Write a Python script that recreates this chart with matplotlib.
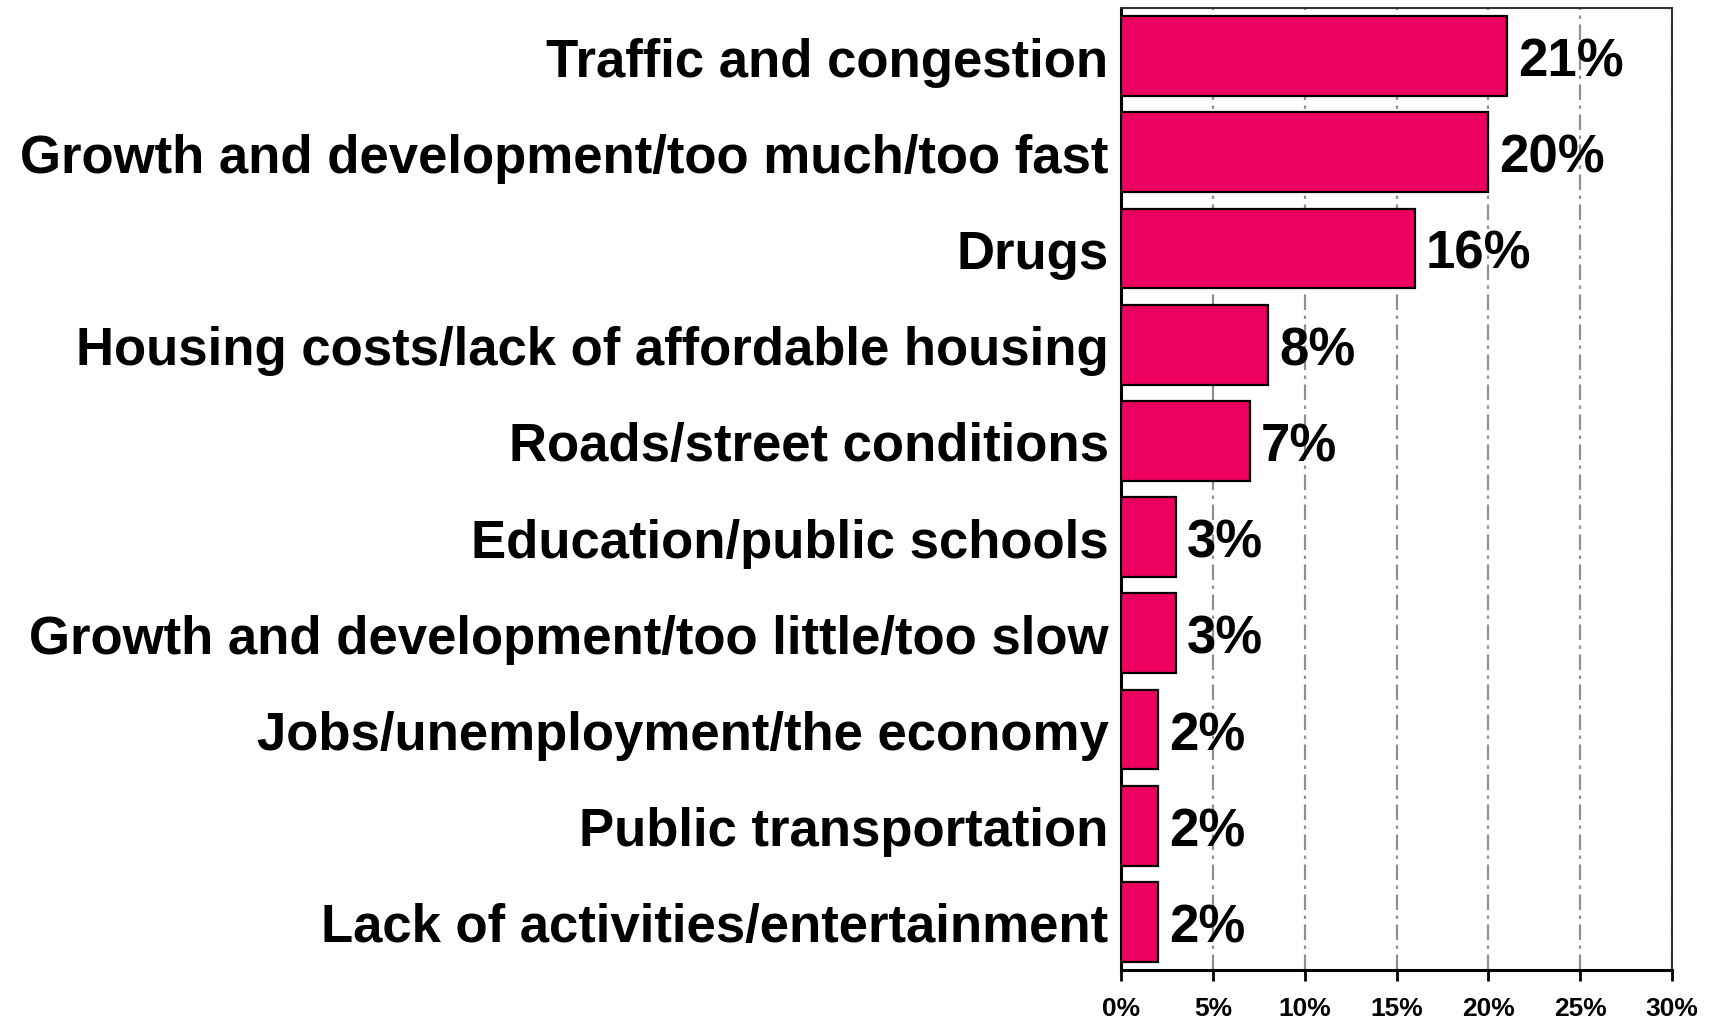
import matplotlib
matplotlib.use("Agg")
import matplotlib.pyplot as plt
from matplotlib.ticker import FuncFormatter

categories = [
    "Traffic and congestion",
    "Growth and development/too much/too fast",
    "Drugs",
    "Housing costs/lack of affordable housing",
    "Roads/street conditions",
    "Education/public schools",
    "Growth and development/too little/too slow",
    "Jobs/unemployment/the economy",
    "Public transportation",
    "Lack of activities/entertainment",
]
values = [21, 20, 16, 8, 7, 3, 3, 2, 2, 2]
x_ticks = [0, 5, 10, 15, 20, 25, 30]

plt.rcParams["font.family"] = ["Liberation Sans", "DejaVu Sans"]
plt.rcParams["font.weight"] = "bold"

fig = plt.figure(figsize=(17.11, 10.20), dpi=100)
ax = fig.add_axes([0.6552, 0.0480, 0.9772 - 0.6552, 0.9912 - 0.0480])

bar_color = "#EE0060"
ypos = list(range(len(categories)))
ax.barh(ypos, values, height=0.83, color=bar_color,
        edgecolor="black", linewidth=1.6, zorder=3)

for y, v in zip(ypos, values):
    ax.text(v + 0.6, y, f"{v}%", va="center_baseline", ha="left",
            fontsize=38, fontweight="bold", color="black", zorder=4)

ax.set_xlim(0, 30)
ax.set_ylim(len(categories) - 0.5, -0.5)
ax.set_xticks(x_ticks)
ax.xaxis.set_major_formatter(FuncFormatter(lambda v, p: f"{int(v)}%"))
ax.set_yticks(ypos)
ax.set_yticklabels(categories, fontsize=38, fontweight="bold")
ax.tick_params(axis="y", length=0, pad=9)
ax.tick_params(axis="x", direction="out", length=8, width=2, pad=11,
               labelsize=19)
for lbl in ax.get_xticklabels():
    lbl.set_fontweight("bold")

ax.xaxis.grid(True, color="#909090", linewidth=1.6,
              linestyle=(0, (7, 2.5, 1.5, 2.5)), zorder=0)
ax.set_axisbelow(True)

for side in ["left", "bottom"]:
    ax.spines[side].set_linewidth(2.2)
for side in ["top", "right"]:
    ax.spines[side].set_linewidth(1.5)
    ax.spines[side].set_color("#333333")

fig.savefig("out.png", dpi=100, facecolor="white")
